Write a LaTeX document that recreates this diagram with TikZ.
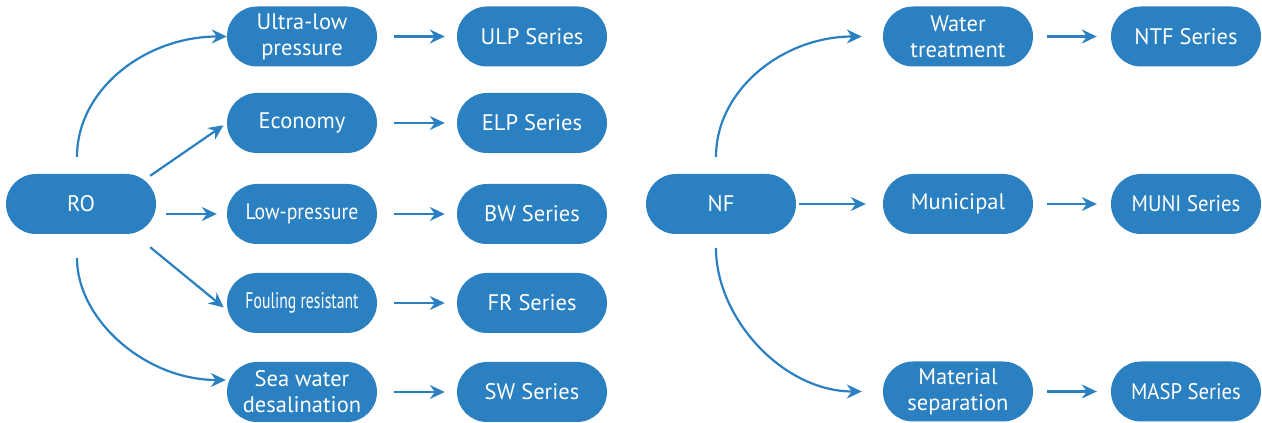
\documentclass[tikz,border=0pt]{standalone}
\usepackage{fontspec}
\setmainfont{PT Sans}
\usetikzlibrary{positioning,calc,arrows.meta}
\definecolor{seablue}{RGB}{42,128,192}

\begin{document}
\begin{tikzpicture}[x=1pt,y=1pt,
    box/.style={fill=seablue, rounded corners=30pt, minimum width=150pt, minimum height=60pt,
        inner sep=0pt, text=white, align=center, font=\fontsize{22.5}{26}\selectfont},
    link/.style={draw=seablue, line width=2.2pt, -{Stealth[length=15pt,width=14pt,inset=5pt]}}]
    \useasboundingbox (0,0) rectangle (1262,423);

    % RO branch
    \node[box] (RO) at (81,219) {RO};
    \node[box] (ulp) at (302,386.5) {Ultra-low\\pressure};
    \node[box] (eco) at (302,300) {Economy};
    \node[box] (lowp) at (302,209) {\scalebox{0.88}[1]{Low-pressure}};
    \node[box] (foul) at (302,120) {\scalebox{0.7}[1]{Fouling resistant}};
    \node[box] (sw) at (302,31) {Sea water\\desalination};

    \node[box] (ulps) at (532,386.5) {ULP Series};
    \node[box] (elps) at (532,300) {ELP Series};
    \node[box] (bws) at (532,209) {BW Series};
    \node[box] (frs) at (532,120) {FR Series};
    \node[box] (sws) at (532,31) {SW Series};

    % NF branch
    \node[box] (NF) at (721,219) {NF};
    \node[box] (water) at (958,386.5) {Water\\treatment};
    \node[box] (muni) at (958,219) {Municipal};
    \node[box] (mat) at (958,31.5) {Material\\separation};

    \node[box] (ntfs) at (1186,386.5) {NTF Series};
    \node[box] (munis) at (1186,219) {\scalebox{0.92}[1]{MUNI Series}};
    \node[box] (masps) at (1186,31.5) {\scalebox{0.92}[1]{MASP Series}};

    % RO to applications
    \draw[link] ($(RO.north)+(-4,17)$) .. controls ($(RO.north)+(-4,84)$) and ($(ulp.west)+(-82,0)$) .. (ulp.west);
    \draw[link, shorten >=4pt] ($(RO.north east)+(-6,-2)$) -- (eco.west);
    \draw[link, shorten <=10pt, shorten >=10pt] (RO.east |- lowp.west) -- (lowp.west);
    \draw[link, shorten >=4pt] ($(RO.south east)+(-6,-13)$) -- ($(foul.west)+(0,-7)$);
    \draw[link] ($(RO.south)+(-4,-24)$) .. controls ($(RO.south)+(-4,-85)$) and ($(sw.west)+(-82,12)$) .. ($(sw.west)+(-1,12)$);

    % NF to applications
    \draw[link, shorten >=21pt] ($(NF.north)+(-5,17)$) .. controls ($(NF.north)+(-5,84)$) and ($(water.west)+(-100,0)$) .. (water.west);
    \draw[link, shorten <=3pt, shorten >=17pt] (NF.east) -- (muni.west);
    \draw[link, shorten >=21pt] ($(NF.south)+(-5,-14)$) .. controls ($(NF.south)+(-5,-84)$) and ($(mat.west)+(-100,0)$) .. (mat.west);

    % applications to series
    \foreach \a/\b in {ulp/ulps, eco/elps, lowp/bws, foul/frs, sw/sws}
        \draw[link, shorten <=17pt, shorten >=12pt] (\a.east) -- (\b.west);
    \foreach \a/\b in {water/ntfs, muni/munis, mat/masps}
        \draw[link, shorten <=14pt, shorten >=14pt] (\a.east) -- (\b.west);
\end{tikzpicture}
\end{document}
